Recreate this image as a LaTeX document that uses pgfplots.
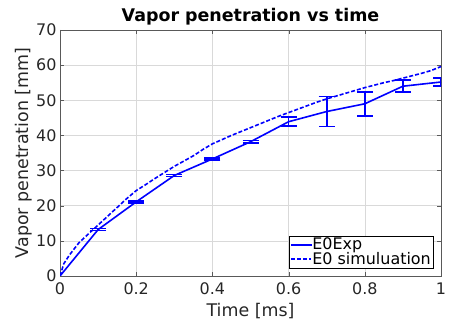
\documentclass[border=0pt]{standalone}
\usepackage{pgfplots}
\pgfplotsset{compat=1.18}
\usepackage{fontspec}
\setmainfont{DejaVu Sans}
\begin{document}
\begin{tikzpicture}
\begin{axis}[
  scale only axis, width=381bp, height=246bp,
  xmin=0, xmax=1, ymin=0, ymax=70,
  xtick={0,0.2,0.4,0.6,0.8,1}, ytick={0,10,...,70},
  xticklabels={0,0.2,0.4,0.6,0.8,1},
  /pgf/number format/assume math mode=true,
  tick label style={font=\fontsize{16}{18}\selectfont, color=black!85},
  xticklabel style={yshift=-3bp},
  label style={font=\fontsize{17.5}{19}\selectfont, color=black!85},
  title style={font=\bfseries\fontsize{17.5}{19}\selectfont, yshift=-5bp},
  title={Vapor penetration vs time},
  xlabel={Time [ms]}, ylabel={Vapor penetration [mm]},
  xlabel style={yshift=-2bp}, ylabel style={yshift=-3bp},
  grid=major, grid style={black!15, line width=0.6bp},
  axis line style={black!65, line width=0.8bp},
  tick style={black!65}, tick align=inside,
  major tick length=4bp,
  legend style={font=\fontsize{16}{18}\selectfont, inner sep=1.5pt, legend cell align=left, at={(0.979,0.032)}, anchor=south east,
    nodes={inner sep=0.5pt}},
]
\addplot[blue, line width=1.6bp, forget plot] coordinates {
  (0,0) (0.1,13.2) (0.2,21.1) (0.3,28.6) (0.4,33.3) (0.5,38.2)
  (0.6,43.9) (0.7,46.8) (0.8,49.0) (0.9,54.0) (1.0,55.2)
  };
\addplot[blue, draw=none, mark=none, forget plot, error bars/.cd, y dir=both, y explicit,
  error bar style={blue, line width=1.6bp}, error mark options={blue, rotate=90, mark size=8bp, line width=1.6bp}]
  coordinates {
  (0.1,13.2) +- (0,0.3)
  (0.2,21.1) +- (0,0.3)
  (0.3,28.6) +- (0,0.3)
  (0.4,33.3) +- (0,0.3)
  (0.5,38.2) +- (0,0.3)
  (0.6,43.9) +- (0,1.3)
  (0.7,46.8) +- (0,4.3)
  (0.8,49.0) +- (0,3.4)
  (0.9,54.0) +- (0,1.7)
  (1.0,55.2) +- (0,1.1)
  };
\addlegendimage{legend image code/.code={\fill[blue] (0bp,-0.8bp) rectangle (20bp,0.8bp);}}
\addlegendentry{E0Exp}
\addlegendimage{legend image code/.code={\draw[draw=blue, line width=1.6bp, dash pattern=on 4bp off 2bp] (0bp,0bp) -- (20bp,0bp);}}
\addlegendentry{E0 simuluation}
\addplot[blue, line width=1.6bp, dash pattern=on 4bp off 2bp, forget plot] coordinates {
(0,0) (0.01,3.5) (0.025,6) (0.05,9.5) (0.075,12) (0.1,14.5) (0.125,17) (0.15,19.5) (0.175,22) (0.2,24.3) (0.225,26) (0.25,27.8) (0.275,29.5) (0.3,31.2) (0.325,32.7) (0.35,34.2) (0.375,36) (0.4,37.6) (0.425,38.8) (0.45,40) (0.475,41.1) (0.5,42.2) (0.525,43.3) (0.55,44.4) (0.575,45.5) (0.6,46.5) (0.625,47.5) (0.65,48.5) (0.675,49.5) (0.7,50.4) (0.725,51.2) (0.75,52) (0.775,52.8) (0.8,53.6) (0.825,54.3) (0.85,55) (0.875,55.6) (0.9,56.3) (0.925,57) (0.95,57.7) (0.975,58.5) (1.0,59.6)
};
\end{axis}
\pgfresetboundingbox
\path ([xshift=-60bp,yshift=-50bp]current axis.south west) rectangle ([xshift=14bp,yshift=30bp]current axis.north east);
\end{tikzpicture}
\end{document}
